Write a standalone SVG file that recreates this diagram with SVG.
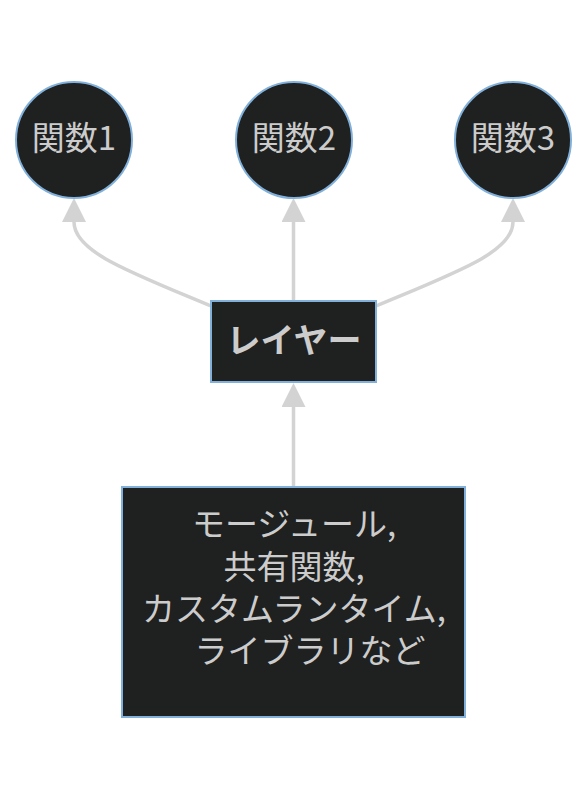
<svg xmlns="http://www.w3.org/2000/svg" width="587" height="800" viewBox="0 0 587 800">
<defs>
<style>
.node{fill:#1f2020;stroke:#81B1DB;stroke-width:2}
.lbl{fill:#cccccc;font-family:"Noto Sans CJK JP","Noto Sans",sans-serif;text-anchor:middle;dominant-baseline:central}
.edge{fill:none;stroke:#d3d3d3;stroke-width:3.5}
</style>
<marker id="arr" viewBox="0 0 24 24" refX="0" refY="12" markerWidth="24" markerHeight="24" markerUnits="userSpaceOnUse" orient="auto">
<path d="M0,0 L24,12 L0,24 z" fill="#d3d3d3"/>
</marker>
</defs>
<rect width="587" height="800" fill="#ffffff"/>
<g id="edges">
<path class="edge" d="M211,306 C130,272 74,252 74,222" marker-end="url(#arr)"/>
<path class="edge" d="M293.5,301 L293.5,222" marker-end="url(#arr)"/>
<path class="edge" d="M376,306 C457,272 513,252 513,222" marker-end="url(#arr)"/>
<path class="edge" d="M293.5,487 L293.5,407" marker-end="url(#arr)"/>
</g>
<g id="f1">
<circle class="node" cx="74" cy="140" r="58"/>
<text class="lbl" x="74" y="136" font-size="33">関数1</text>
</g>
<g id="f2">
<circle class="node" cx="294" cy="140" r="58"/>
<text class="lbl" x="294" y="136" font-size="33">関数2</text>
</g>
<g id="f3">
<circle class="node" cx="513" cy="140" r="58"/>
<text class="lbl" x="513" y="136" font-size="33">関数3</text>
</g>
<g id="layer">
<rect class="node" x="211" y="301" width="165" height="81"/>
<text class="lbl" x="294" y="338" font-size="34" font-weight="bold">レイヤー</text>
</g>
<g id="base">
<rect class="node" x="122" y="487" width="343" height="230"/>
<text class="lbl" x="294" y="522" font-size="33">モージュール,</text>
<text class="lbl" x="294" y="565" font-size="33">共有関数,</text>
<text class="lbl" x="294" y="607" font-size="33">カスタムランタイム,</text>
<text class="lbl" x="310" y="649" font-size="33">ライブラリなど</text>
</g>
</svg>
